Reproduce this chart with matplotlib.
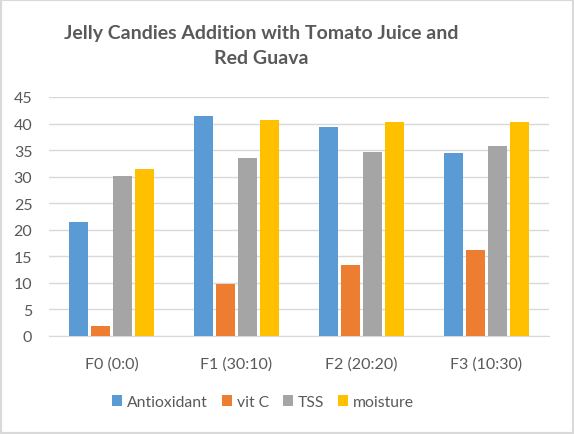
import numpy as np
import matplotlib.pyplot as plt
from matplotlib.patches import Rectangle

categories = ["F0 (0:0)", "F1 (30:10)", "F2 (20:20)", "F3 (10:30)"]
series_names = ["Antioxidant", "vit C", "TSS", "moisture"]
antioxidant = [21.5, 41.5, 39.4, 34.5]
vit_c = [1.9, 9.7, 13.4, 16.1]
tss = [30.2, 33.6, 34.7, 35.8]
moisture = [31.5, 40.7, 40.3, 40.2]
colors = ["#5B9BD5", "#ED7D31", "#A5A5A5", "#FFC000"]

plt.rcParams['font.family'] = ['Lato', 'DejaVu Sans']
text_color = "#595959"

fig = plt.figure(figsize=(5.74, 4.35), dpi=100)
ax = fig.add_axes([49 / 574, 1 - 337 / 435, 500 / 574, 239 / 435])

x = np.arange(len(categories))
step = 0.176
width = 0.145
for i, (name, vals) in enumerate(zip(series_names, [antioxidant, vit_c, tss, moisture])):
    ax.bar(x + (i - 1.5) * step, vals, width, color=colors[i], label=name, zorder=3)

ax.set_xlim(-0.5, 3.5)
ax.set_ylim(0, 45)
ax.set_yticks(range(0, 46, 5))
ax.set_xticks(x)
ax.set_xticklabels(categories)
ax.grid(axis='y', color="#D9D9D9", linewidth=1, zorder=0)
for s in ["top", "right", "left"]:
    ax.spines[s].set_visible(False)
ax.spines["bottom"].set_color("#D9D9D9")
ax.tick_params(axis='both', length=0, labelsize=11.5, colors=text_color)
ax.tick_params(axis='x', pad=15)
ax.tick_params(axis='y', pad=12)

fig.text(261 / 574, 1 - 46 / 435, "Jelly Candies Addition with Tomato Juice and\nRed Guava",
         ha='center', va='center', fontsize=14, fontweight='bold', color=text_color,
         linespacing=1.6)

leg = fig.legend(loc='center', bbox_to_anchor=(263 / 574, 1 - 403 / 435), ncol=4, frameon=False,
                 fontsize=11.3, handlelength=0.65, handleheight=0.75, handletextpad=0.3,
                 columnspacing=0.9, labelcolor=text_color)

fig.patches.append(Rectangle((0, 0), 1, 1, transform=fig.transFigure, fill=False,
                             edgecolor="#D9D9D9", linewidth=3))

fig.savefig("out.png", dpi=100)
